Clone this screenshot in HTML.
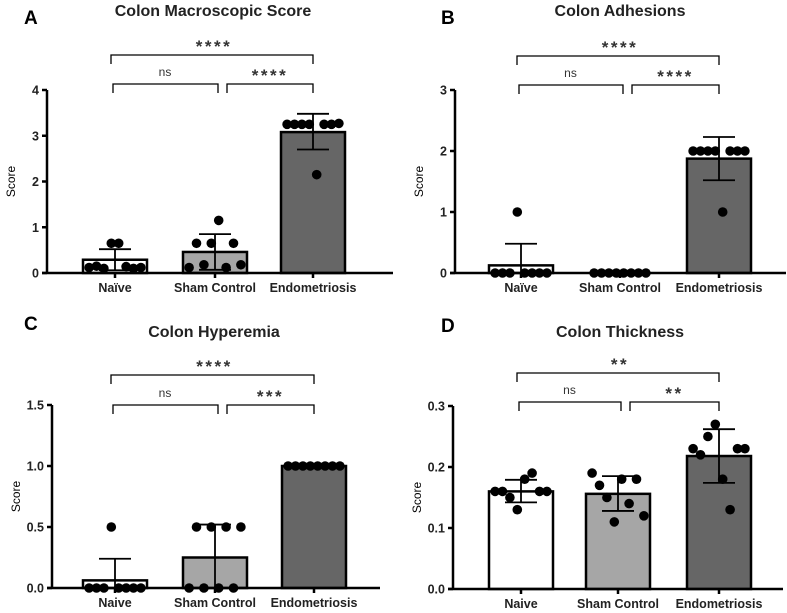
<!DOCTYPE html>
<html><head><meta charset="utf-8"><style>
body{margin:0;background:#fff;}
svg{display:block;font-family:"Liberation Sans",Arial,sans-serif;}
</style></head><body>
<svg id="fig" width="787" height="613" viewBox="0 0 787 613"></svg>
<script>
const categories = ["Naïve","Sham Control","Endometriosis"];
const categoriesD = ["Naive","Sham Control","Endometriosis"];
const categoriesC = ["Naive","Sham Control","Endometriosis"];
// Panel A
const aMeans = [0.29, 0.46, 3.08];
const aErrLo = [0.06, 0.07, 2.70];
const aErrHi = [0.52, 0.85, 3.48];
const aNaive = [0.12, 0.15, 0.10, 0.65, 0.65, 0.14, 0.10, 0.12];
const aSham = [0.12, 0.65, 0.18, 0.65, 1.15, 0.12, 0.65, 0.18];
const aEndo = [3.25, 3.25, 3.25, 3.25, 2.15, 3.25, 3.25, 3.27];
const aTicks = [0, 1, 2, 3, 4];
const aTickLabels = ["0","1","2","3","4"];
// Panel B
const bMeans = [0.125, 0, 1.875];
const bErrLo = [0, 0, 1.52];
const bErrHi = [0.48, 0, 2.23];
const bNaive = [0, 0, 0, 1, 0, 0, 0, 0];
const bSham = [0, 0, 0, 0, 0, 0, 0, 0];
const bEndo = [2, 2, 2, 2, 1, 2, 2, 2];
const bTicks = [0, 1, 2, 3];
const bTickLabels = ["0","1","2","3"];
// Panel C
const cMeans = [0.0625, 0.25, 1.0];
const cErrLo = [0, 0, 1.0];
const cErrHi = [0.24, 0.52, 1.0];
const cNaive = [0, 0, 0, 0.5, 0, 0, 0, 0];
const cSham = [0, 0.5, 0, 0.5, 0, 0.5, 0, 0.5];
const cEndo = [1, 1, 1, 1, 1, 1, 1, 1];
const cTicks = [0, 0.5, 1.0, 1.5];
const cTickLabels = ["0.0","0.5","1.0","1.5"];
// Panel D
const dMeans = [0.160, 0.156, 0.218];
const dErrLo = [0.142, 0.128, 0.174];
const dErrHi = [0.179, 0.185, 0.262];
const dNaive = [0.16, 0.16, 0.15, 0.13, 0.18, 0.19, 0.16, 0.16];
const dSham = [0.19, 0.17, 0.15, 0.11, 0.18, 0.14, 0.18, 0.12];
const dEndo = [0.23, 0.22, 0.25, 0.27, 0.18, 0.13, 0.23, 0.23];
const dTicks = [0, 0.1, 0.2, 0.3];
const dTickLabels = ["0.0","0.1","0.2","0.3"];

const NS = "http://www.w3.org/2000/svg";
const svg = document.getElementById("fig");
function mk(tag, attrs, parent, text){
  const e = document.createElementNS(NS, tag);
  for (const k in attrs) e.setAttribute(k, attrs[k]);
  if (text !== undefined) e.textContent = text;
  (parent || svg).appendChild(e);
  return e;
}
const fills = ["#ffffff", "#a6a6a6", "#666666"];

function panel(p){
  const g = mk("g", {});
  
  
  const y = v => p.y0 - (v - 0) / p.ymax * (p.y0 - p.ytop);
  let t = mk("text", {x: p.lx, y: p.ly, "font-size": 19, "font-weight": "bold"}, g, p.letter);
  
  
  t = mk("text", {x: p.tx, y: p.ty, "font-size": 16, "font-weight": "bold", "text-anchor": "middle", fill: "#222"}, g, p.title);
  
  
  t = mk("text", {x: 0, y: 0, "font-size": 12, "text-anchor": "middle", transform: `translate(${p.ax - 32},${(p.y0 + p.ytop) / 2}) rotate(-90)`}, g, "Score");
  
  
  p.centers.forEach((cx, i) => {
    const top = y(p.means[i]);
    const r = mk("rect", {x: cx - 32, y: top, width: 64, height: Math.max(p.y0 - top, 0), fill: fills[i], stroke: "#000", "stroke-width": 2.5}, g);
    
    
  });
  p.points.forEach((arr, i) => {
    arr.forEach((v, j) => {
      const c = mk("circle", {cx: p.centers[i] + (j - 3.5) * 7.4, cy: y(v), r: 4.8, fill: "#000"}, g);
      
      
    });
  });
  p.centers.forEach((cx, i) => {
    const e = mk("g", {stroke: "#000", "stroke-width": 1.8}, g);
    
    
    const lo = y(p.lo[i]), hi = y(p.hi[i]);
    mk("line", {x1: cx, x2: cx, y1: lo, y2: hi}, e);
    mk("line", {x1: cx - 16, x2: cx + 16, y1: hi, y2: hi}, e);
    mk("line", {x1: cx - 16, x2: cx + 16, y1: lo, y2: lo}, e);
  });
  const ax = mk("g", {stroke: "#000", "stroke-width": 2.5}, g);
  
  
  mk("line", {x1: p.ax, x2: p.ax, y1: p.ytop, y2: p.y0}, ax);
  mk("line", {x1: p.ax - 5, x2: p.axEnd, y1: p.y0, y2: p.y0}, ax);
  p.ticks.forEach((v, i) => {
    mk("line", {x1: p.ax - 5, x2: p.ax, y1: y(v), y2: y(v)}, ax);
    const tl = mk("text", {x: p.ax - 8, y: y(v) + 4.5, "font-size": 12.5, "font-weight": "bold", "text-anchor": "end", fill: "#222", stroke: "none"}, g, p.tickLabels[i]);
    
    
  });
  p.centers.forEach((cx, i) => {
    mk("line", {x1: cx, x2: cx, y1: p.y0, y2: p.y0 + 5}, ax);
    const xl = mk("text", {x: cx, y: p.y0 + 19, "font-size": 12.5, "font-weight": "bold", "text-anchor": "middle", fill: "#222"}, g, p.cats[i]);
    
    
  });
  const br = mk("g", {stroke: "#000", "stroke-width": 1.3, fill: "none"}, g);
  
  
  const c = p.centers;
  mk("polyline", {points: `${c[0]-4},${p.b1+9} ${c[0]-4},${p.b1} ${c[2]},${p.b1} ${c[2]},${p.b1+9}`}, br);
  mk("polyline", {points: `${c[0]-2},${p.b2+9} ${c[0]-2},${p.b2} ${c[1]+3},${p.b2} ${c[1]+3},${p.b2+9}`}, br);
  mk("polyline", {points: `${c[1]+12},${p.b2+9} ${c[1]+12},${p.b2} ${c[2]},${p.b2} ${c[2]},${p.b2+9}`}, br);
  const s1 = mk("text", {x: (c[0] + c[2]) / 2, y: p.b1 - 3, "font-size": 17, "font-weight": "bold", "text-anchor": "middle", "letter-spacing": 2.5, fill: "#333"}, g, p.sig[0]);
  
  
  const s2 = mk("text", {x: (c[0] + c[1]) / 2, y: p.b2 - 8, "font-size": 12, "text-anchor": "middle", fill: "#333"}, g, p.sig[1]);
  
  
  const s3 = mk("text", {x: (c[1] + c[2]) / 2 + 6, y: p.b2 - 3, "font-size": 17, "font-weight": "bold", "text-anchor": "middle", "letter-spacing": 2.5, fill: "#333"}, g, p.sig[2]);
  
  
}

panel({letter:"A", lx:24, ly:24, title:"Colon Macroscopic Score", tx:213, ty:16,
  ax:47, axEnd:393, y0:273, ytop:90, ymax:4, centers:[115,215,313],
  means:aMeans, lo:aErrLo, hi:aErrHi, points:[aNaive,aSham,aEndo], cats:categories,
  ticks:aTicks, tickLabels:aTickLabels, b1:55, b2:84, sig:["****","ns","****"]});
panel({letter:"B", lx:441, ly:24, title:"Colon Adhesions", tx:620, ty:16,
  ax:455, axEnd:786, y0:273, ytop:90, ymax:3, centers:[521,620,719],
  means:bMeans, lo:bErrLo, hi:bErrHi, points:[bNaive,bSham,bEndo], cats:categories,
  ticks:bTicks, tickLabels:bTickLabels, b1:56, b2:85, sig:["****","ns","****"]});
panel({letter:"C", lx:24, ly:330, title:"Colon Hyperemia", tx:214, ty:337,
  ax:52, axEnd:380, y0:588, ytop:405, ymax:1.5, centers:[115,215,314],
  means:cMeans, lo:cErrLo, hi:cErrHi, points:[cNaive,cSham,cEndo], cats:categoriesC,
  ticks:cTicks, tickLabels:cTickLabels, b1:375, b2:405, sig:["****","ns","***"]});
panel({letter:"D", lx:441, ly:332, title:"Colon Thickness", tx:620, ty:337,
  ax:453, axEnd:783, y0:589, ytop:406, ymax:0.3, centers:[521,618,719],
  means:dMeans, lo:dErrLo, hi:dErrHi, points:[dNaive,dSham,dEndo], cats:categoriesD,
  ticks:dTicks, tickLabels:dTickLabels, b1:373, b2:402, sig:["**","ns","**"]});
</script>
</body></html>
